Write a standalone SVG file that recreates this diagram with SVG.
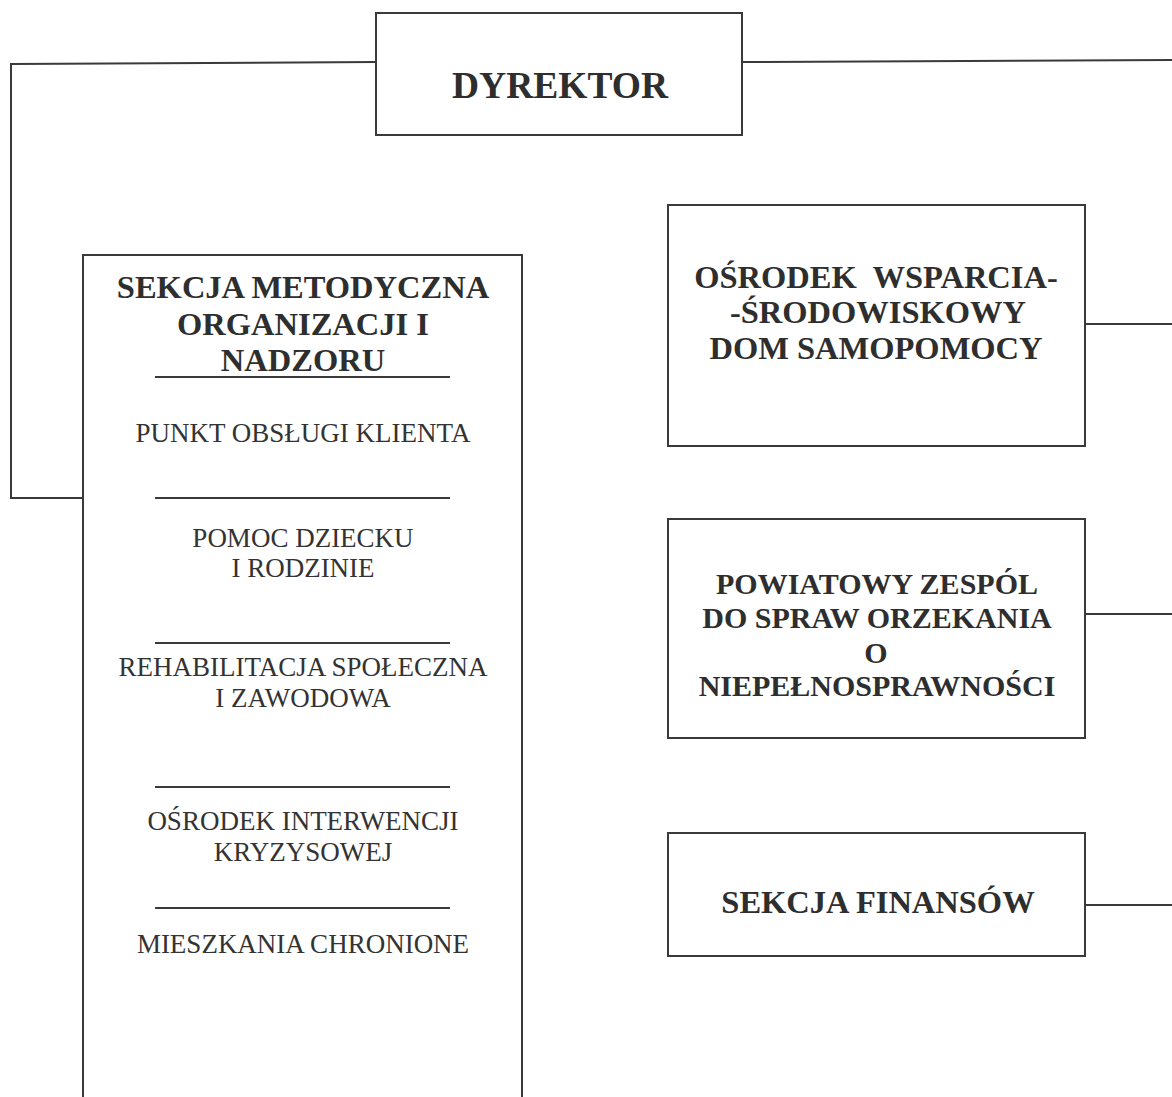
<svg xmlns="http://www.w3.org/2000/svg" width="1172" height="1097" viewBox="0 0 1172 1097">
<style>
.box{fill:none;stroke:#3a3a3a;stroke-width:2}
.ln{fill:none;stroke:#3a3a3a;stroke-width:2}
.b{font-family:"Liberation Serif","Times New Roman",serif;font-weight:bold;fill:#2e2e2e;text-anchor:middle}
.r{font-family:"Liberation Serif","Times New Roman",serif;font-size:27px;fill:#333;text-anchor:middle}
</style>
<rect width="1172" height="1097" fill="#fff"/>
<g id="connectors">
<polyline class="ln" points="376,62 11,64 11,498 83,498"/>
<polyline class="ln" points="742,62 1172,60"/>
<line class="ln" x1="1085" y1="324" x2="1172" y2="324"/>
<line class="ln" x1="1085" y1="614" x2="1172" y2="614"/>
<line class="ln" x1="1085" y1="905" x2="1172" y2="905"/>
</g>
<g id="dyrektor">
<rect class="box" x="376" y="13" width="366" height="122"/>
<text class="b" x="560" y="98" font-size="37.5">DYREKTOR</text>
</g>
<g id="sekcja-metodyczna">
<rect class="box" x="83" y="255" width="439" height="860"/>
<text class="b" x="303" y="298" font-size="32.5">SEKCJA METODYCZNA</text>
<text class="b" x="303" y="335" font-size="32.5">ORGANIZACJI I</text>
<text class="b" x="303" y="371" font-size="32.5">NADZORU</text>
<line class="ln" x1="155" y1="377" x2="450" y2="377"/>
<text class="r" x="303" y="442">PUNKT OBSŁUGI KLIENTA</text>
<line class="ln" x1="155" y1="498" x2="450" y2="498"/>
<text class="r" x="303" y="547">POMOC DZIECKU</text>
<text class="r" x="303" y="577">I RODZINIE</text>
<line class="ln" x1="155" y1="643" x2="450" y2="643"/>
<text class="r" x="303" y="676">REHABILITACJA SPOŁECZNA</text>
<text class="r" x="303" y="707">I ZAWODOWA</text>
<line class="ln" x1="155" y1="787" x2="450" y2="787"/>
<text class="r" x="303" y="830">OŚRODEK INTERWENCJI</text>
<text class="r" x="303" y="861">KRYZYSOWEJ</text>
<line class="ln" x1="155" y1="908" x2="450" y2="908"/>
<text class="r" x="303" y="953">MIESZKANIA CHRONIONE</text>
</g>
<g id="osrodek-wsparcia">
<rect class="box" x="668" y="205" width="417" height="241"/>
<text class="b" x="876" y="288" font-size="32.5" xml:space="preserve">OŚRODEK  WSPARCIA-</text>
<text class="b" x="878" y="323" font-size="32.5">-ŚRODOWISKOWY</text>
<text class="b" x="876" y="359" font-size="32.5">DOM SAMOPOMOCY</text>
</g>
<g id="powiatowy-zespol">
<rect class="box" x="668" y="519" width="417" height="219"/>
<text class="b" x="877" y="594" font-size="30">POWIATOWY ZESPÓL</text>
<text class="b" x="877" y="628" font-size="30">DO SPRAW ORZEKANIA</text>
<text class="b" x="876" y="663" font-size="30">O</text>
<text class="b" x="877" y="696" font-size="30">NIEPEŁNOSPRAWNOŚCI</text>
</g>
<g id="sekcja-finansow">
<rect class="box" x="668" y="833" width="417" height="123"/>
<text class="b" x="878" y="913" font-size="32.5">SEKCJA FINANSÓW</text>
</g>
</svg>
